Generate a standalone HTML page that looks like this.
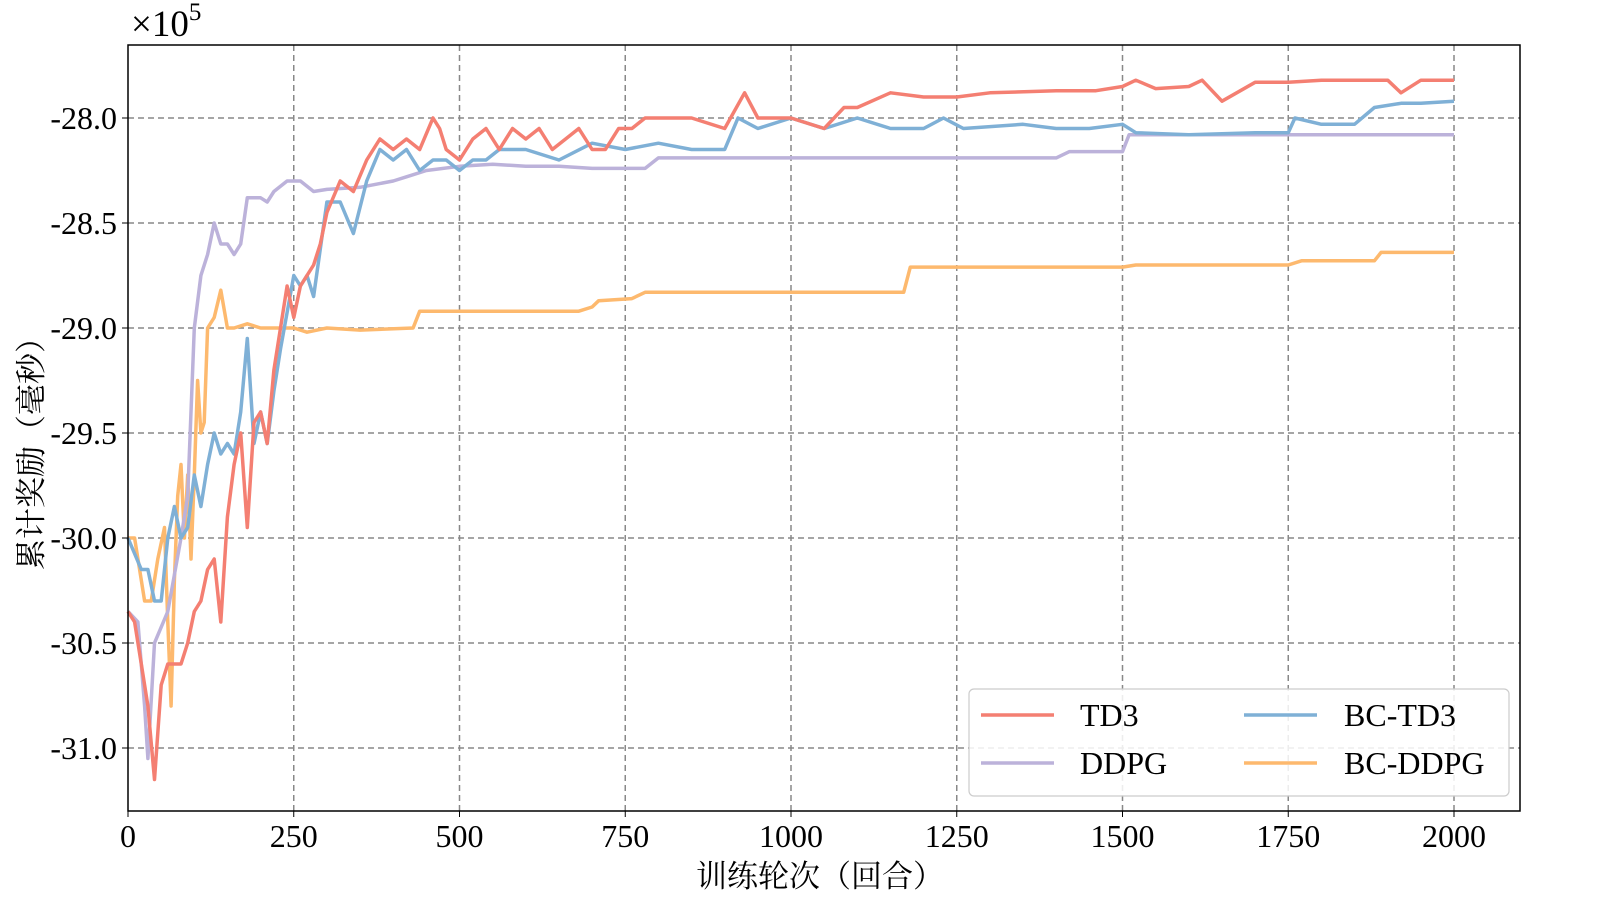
<!DOCTYPE html>
<html><head><meta charset="utf-8"><style>
html,body{margin:0;padding:0;background:#fff;width:1600px;height:900px;overflow:hidden}
svg text{font-family:"Liberation Serif","Noto Serif CJK SC",serif;fill:#000}
</style></head><body>
<svg id="chart" width="1600" height="900" xmlns="http://www.w3.org/2000/svg">
<g id="grid"></g>
<g id="series"></g>
<rect x="128" y="45" width="1392" height="766" fill="none" stroke="#000" stroke-width="1.5"/>
<g id="ticks"></g>
<text x="131" y="36" font-size="37">×10<tspan font-size="25" dy="-16">5</tspan></text>
<text x="820" y="887" font-size="31" text-anchor="middle" font-family="Noto Serif CJK SC, serif">训练轮次（回合）</text>
<text transform="translate(42,446) rotate(-90)" font-size="31" text-anchor="middle" font-family="Noto Serif CJK SC, serif">累计奖励（毫秒）</text>
<g>
<rect x="969" y="689" width="540" height="107" rx="5" fill="#fff" fill-opacity="0.85" stroke="#ccc" stroke-width="1.2"/>
<line x1="981" y1="715" x2="1054" y2="715" stroke="#f47f72" stroke-width="3.5"/>
<text x="1080" y="726" font-size="32">TD3</text>
<line x1="981" y1="763" x2="1054" y2="763" stroke="#bcb2da" stroke-width="3.5"/>
<text x="1080" y="774" font-size="32">DDPG</text>
<line x1="1244" y1="715" x2="1317" y2="715" stroke="#7fb0d6" stroke-width="3.5"/>
<text x="1344" y="726" font-size="32">BC-TD3</text>
<line x1="1244" y1="763" x2="1317" y2="763" stroke="#fdb96e" stroke-width="3.5"/>
<text x="1344" y="774" font-size="32">BC-DDPG</text>
</g>
</svg>
<script>
const xTicks=[0,250,500,750,1000,1250,1500,1750,2000];
const yTicks=[-28.0,-28.5,-29.0,-29.5,-30.0,-30.5,-31.0];
const td3X=[0,10,20,30,40,50,60,70,80,90,100,110,120,130,140,150,160,170,180,190,200,210,220,230,240,250,260,270,280,290,300,320,340,360,380,400,420,440,460,470,480,500,520,540,560,580,600,620,640,660,680,700,720,740,760,780,800,850,900,930,950,1000,1050,1080,1100,1150,1200,1250,1300,1400,1460,1500,1520,1550,1600,1620,1650,1700,1750,1800,1900,1920,1950,2000];
const td3Y=[-30.35,-30.4,-30.6,-30.8,-31.15,-30.7,-30.6,-30.6,-30.6,-30.5,-30.35,-30.3,-30.15,-30.1,-30.4,-29.9,-29.65,-29.5,-29.95,-29.45,-29.4,-29.55,-29.2,-29.0,-28.8,-28.95,-28.8,-28.75,-28.7,-28.6,-28.45,-28.3,-28.35,-28.2,-28.1,-28.15,-28.1,-28.15,-28.0,-28.05,-28.15,-28.2,-28.1,-28.05,-28.15,-28.05,-28.1,-28.05,-28.15,-28.1,-28.05,-28.15,-28.15,-28.05,-28.05,-28.0,-28.0,-28.0,-28.05,-27.88,-28.0,-28.0,-28.05,-27.95,-27.95,-27.88,-27.9,-27.9,-27.88,-27.87,-27.87,-27.85,-27.82,-27.86,-27.85,-27.82,-27.92,-27.83,-27.83,-27.82,-27.82,-27.88,-27.82,-27.82];
const bctd3X=[0,20,30,40,50,60,70,80,90,100,110,120,130,140,150,160,170,180,190,200,210,220,230,250,260,270,280,300,320,340,360,380,400,420,440,460,480,500,520,540,560,600,650,700,750,800,850,900,920,950,1000,1050,1100,1150,1200,1230,1260,1350,1400,1450,1500,1520,1600,1700,1750,1760,1800,1850,1880,1920,1950,2000];
const bctd3Y=[-30.0,-30.15,-30.15,-30.3,-30.3,-30.0,-29.85,-30.0,-29.95,-29.7,-29.85,-29.65,-29.5,-29.6,-29.55,-29.6,-29.4,-29.05,-29.55,-29.4,-29.55,-29.3,-29.1,-28.75,-28.8,-28.75,-28.85,-28.4,-28.4,-28.55,-28.3,-28.15,-28.2,-28.15,-28.25,-28.2,-28.2,-28.25,-28.2,-28.2,-28.15,-28.15,-28.2,-28.12,-28.15,-28.12,-28.15,-28.15,-28.0,-28.05,-28.0,-28.05,-28.0,-28.05,-28.05,-28.0,-28.05,-28.03,-28.05,-28.05,-28.03,-28.07,-28.08,-28.07,-28.07,-28.0,-28.03,-28.03,-27.95,-27.93,-27.93,-27.92];
const ddpgX=[0,15,25,30,40,60,80,90,100,110,120,130,140,150,160,170,180,200,210,220,240,260,280,300,350,400,420,450,500,550,600,650,700,780,800,1000,1400,1420,1500,1510,2000];
const ddpgY=[-30.35,-30.4,-30.8,-31.05,-30.5,-30.35,-30.0,-29.8,-29.0,-28.75,-28.65,-28.5,-28.6,-28.6,-28.65,-28.6,-28.38,-28.38,-28.4,-28.35,-28.3,-28.3,-28.35,-28.34,-28.33,-28.3,-28.28,-28.25,-28.23,-28.22,-28.23,-28.23,-28.24,-28.24,-28.19,-28.19,-28.19,-28.16,-28.16,-28.08,-28.08];
const bcddpgX=[0,10,25,35,45,55,60,65,70,75,80,85,90,95,100,105,110,115,120,130,140,150,160,180,200,250,270,300,350,430,440,680,700,710,760,780,800,1000,1170,1180,1500,1520,1750,1770,1880,1890,2000];
const bcddpgY=[-30.0,-30.0,-30.3,-30.3,-30.1,-29.95,-30.4,-30.8,-30.2,-29.8,-29.65,-30.0,-29.7,-30.1,-29.7,-29.25,-29.5,-29.45,-29.0,-28.95,-28.82,-29.0,-29.0,-28.98,-29.0,-29.0,-29.02,-29.0,-29.01,-29.0,-28.92,-28.92,-28.9,-28.87,-28.86,-28.83,-28.83,-28.83,-28.83,-28.71,-28.71,-28.7,-28.7,-28.68,-28.68,-28.64,-28.64];
const NS='http://www.w3.org/2000/svg';
function sx(v){return 128+v*(1326/2000);}
function sy(v){return 118+(-28.0-v)*(630/3.0);}
const grid=document.getElementById('grid'),ticks=document.getElementById('ticks'),ser=document.getElementById('series');
xTicks.forEach(t=>{
 if(t>0){const l=document.createElementNS(NS,'line');
 
 
 l.setAttribute('x1',sx(t));l.setAttribute('x2',sx(t));l.setAttribute('y1',45);l.setAttribute('y2',811);
 l.setAttribute('stroke','#888');l.setAttribute('stroke-dasharray','6,4');l.setAttribute('stroke-width','1.5');grid.appendChild(l);}
 const k=document.createElementNS(NS,'line');
 
 
 k.setAttribute('x1',sx(t));k.setAttribute('x2',sx(t));k.setAttribute('y1',811);k.setAttribute('y2',817);k.setAttribute('stroke','#000');ticks.appendChild(k);
 const tx=document.createElementNS(NS,'text');
 
 
 tx.setAttribute('x',sx(t));tx.setAttribute('y',847);tx.setAttribute('font-size','32');tx.setAttribute('text-anchor','middle');tx.textContent=t;ticks.appendChild(tx);
});
yTicks.forEach(t=>{
 const l=document.createElementNS(NS,'line');
 
 
 l.setAttribute('x1',128);l.setAttribute('x2',1520);l.setAttribute('y1',sy(t));l.setAttribute('y2',sy(t));
 l.setAttribute('stroke','#888');l.setAttribute('stroke-dasharray','6,4');l.setAttribute('stroke-width','1.5');grid.appendChild(l);
 const k=document.createElementNS(NS,'line');
 
 
 k.setAttribute('x1',122);k.setAttribute('x2',128);k.setAttribute('y1',sy(t));k.setAttribute('y2',sy(t));k.setAttribute('stroke','#000');ticks.appendChild(k);
 const tx=document.createElementNS(NS,'text');
 
 
 tx.setAttribute('x',117);tx.setAttribute('y',sy(t)+11);tx.setAttribute('font-size','32');tx.setAttribute('text-anchor','end');tx.textContent=t.toFixed(1);ticks.appendChild(tx);
});
function draw(xs,ys,color,name){
 const n=Math.min(xs.length,ys.length);const pts=[];
 for(let i=0;i<n;i++)pts.push(sx(xs[i]).toFixed(1)+','+sy(ys[i]).toFixed(1));
 const p=document.createElementNS(NS,'polyline');
 
 
 p.setAttribute('points',pts.join(' '));p.setAttribute('fill','none');p.setAttribute('stroke',color);
 p.setAttribute('stroke-width','3.5');p.setAttribute('stroke-linejoin','round');ser.appendChild(p);
}
draw(bcddpgX,bcddpgY,'#fdb96e','bc-ddpg-line');
draw(ddpgX,ddpgY,'#bcb2da','ddpg-line');
draw(bctd3X,bctd3Y,'#7fb0d6','bc-td3-line');
draw(td3X,td3Y,'#f47f72','td3-line');
</script>
</body></html>
